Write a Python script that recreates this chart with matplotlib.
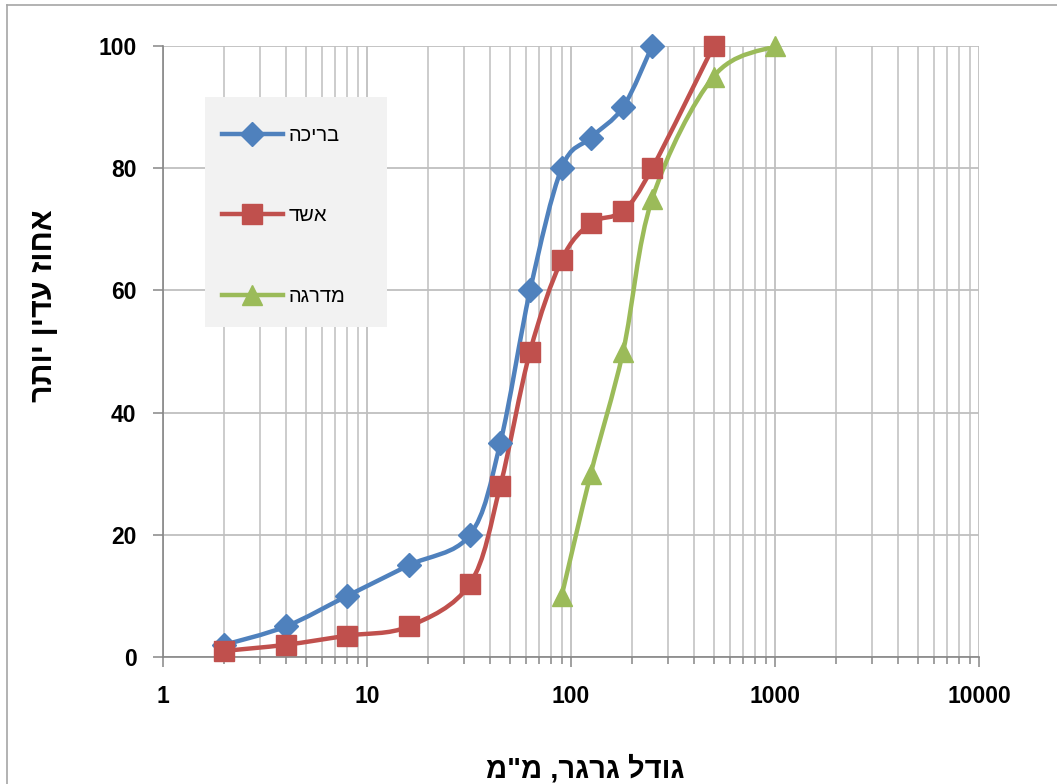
import numpy as np
import matplotlib
matplotlib.use("Agg")
import matplotlib.pyplot as plt
from matplotlib.path import Path
from matplotlib.patches import PathPatch, Rectangle
from matplotlib.lines import Line2D
from matplotlib.ticker import LogLocator, FixedLocator, NullFormatter

plt.rcParams['font.family'] = ['Liberation Sans', 'DejaVu Sans']

# grain size (mm) and percent finer
pool_x = [2, 4, 8, 16, 32, 45, 63, 90, 125, 180, 250]
pool_y = [2, 5, 10, 15, 20, 35, 60, 80, 85, 90, 100]

fall_x = [2, 4, 8, 16, 32, 45, 63, 90, 125, 180, 250, 500]
fall_y = [1, 2, 3.5, 5, 12, 28, 50, 65, 71, 73, 80, 100]

step_x = [90, 125, 180, 250, 500, 1000]
step_y = [10, 30, 50, 75, 95, 100]

names = ['בריכה', 'אשד', 'מדרגה']
colors = ['#4F81BD', '#C0504D', '#9BBB59']
markers = ['D', 's', '^']
msizes = [12, 14, 15]

y_ticks = [0, 20, 40, 60, 80, 100]
x_ticks = [1, 10, 100, 1000, 10000]

y_title = 'אחוז עדין יותר'
x_title = 'גודל גרגר, מ"מ'


def rtl(s):
    # matplotlib lays text out left to right, so reverse Hebrew strings
    return s[::-1]


def smooth_path(xs, ys):
    """Excel-like smoothed line: cubic bezier through the points in log-x space."""
    lx = np.log10(np.asarray(xs, float))
    ly = np.asarray(ys, float)
    pts = np.column_stack([lx, ly])
    n = len(pts)
    verts = [pts[0]]
    codes = [Path.MOVETO]
    for i in range(n - 1):
        p0 = pts[max(i - 1, 0)]
        p1 = pts[i]
        p2 = pts[i + 1]
        p3 = pts[min(i + 2, n - 1)]
        c1 = p1 + (p2 - p0) / 6.0
        c2 = p2 - (p3 - p1) / 6.0
        verts += [c1, c2, p2]
        codes += [Path.CURVE4] * 3
    verts = np.array(verts)
    verts[:, 0] = 10 ** verts[:, 0]
    return Path(verts, codes)


fig = plt.figure(figsize=(10.57, 7.84), dpi=100)
ax = fig.add_axes([163 / 1057, 1 - 657 / 784, (979 - 163) / 1057, (657 - 46) / 784])

ax.set_xscale('log')
ax.set_xlim(1, 10000)
ax.set_ylim(0, 100)

ax.xaxis.set_major_locator(FixedLocator(x_ticks))
ax.xaxis.set_minor_locator(LogLocator(base=10, subs=np.arange(2, 10)))
ax.xaxis.set_minor_formatter(NullFormatter())
ax.set_xticklabels([str(t) for t in x_ticks])
ax.set_yticks(y_ticks)

grid_c = '#bfbfbf'
ax.grid(True, which='major', axis='both', color=grid_c, linewidth=1.3, zorder=0)
ax.grid(True, which='minor', axis='x', color=grid_c, linewidth=1.1, zorder=0)
ax.set_axisbelow(True)

for side in ['top', 'right']:
    ax.spines[side].set_visible(False)
for side in ['left', 'bottom']:
    ax.spines[side].set_color('#868686')
    ax.spines[side].set_linewidth(1.2)

ax.tick_params(axis='both', which='both', color='#868686', width=1.1)
ax.tick_params(axis='y', length=7, pad=12)
ax.tick_params(axis='x', which='major', length=7, pad=13)
ax.tick_params(axis='x', which='minor', length=5)
for lab in ax.get_xticklabels() + ax.get_yticklabels():
    lab.set_fontsize(16.5)
    lab.set_fontweight('bold')

series = [(pool_x, pool_y), (fall_x, fall_y), (step_x, step_y)]
handles = []
for (xs, ys), name, c, m, ms in zip(series, names, colors, markers, msizes):
    patch = PathPatch(smooth_path(xs, ys), facecolor='none', edgecolor=c,
                      linewidth=3.2, capstyle='round', joinstyle='round', zorder=3)
    ax.add_patch(patch)
    ax.plot(xs, ys, linestyle='none', marker=m, markersize=ms, color=c,
            markeredgecolor=c, zorder=4, clip_on=False)
    handles.append(Line2D([], [], color=c, linewidth=3.2, marker=m,
                          markersize=ms, markeredgecolor=c))

# legend box
x0 = (205 - 163) / 816
y0 = (657 - 327) / 611
w = (387 - 205) / 816
h = (327 - 97) / 611
ax.add_patch(Rectangle((x0, y0), w, h, transform=ax.transAxes,
                       facecolor='#f2f2f2', edgecolor='none', zorder=5))
leg = ax.legend(handles, [rtl(n) for n in names], loc='upper left',
                bbox_to_anchor=(x0 + 0.021, y0 + h - 0.047), frameon=False,
                fontsize=14.5, handlelength=3.0, handletextpad=0.3,
                labelspacing=3.05, numpoints=1, borderaxespad=0, borderpad=0)
leg.set_zorder(6)

fig.text(44 / 1057, 1 - 306 / 784, rtl(y_title), rotation=90,
         ha='center', va='center', fontsize=22, fontweight='bold')
fig.text(585 / 1057, 1 - 769 / 784, rtl(x_title), ha='center', va='center',
         fontsize=21, fontweight='bold')

# chart area border
fig.add_artist(Line2D([7 / 1057, 7 / 1057], [0, 1 - 5 / 784], color='#a6a6a6',
                      linewidth=1.2, transform=fig.transFigure))
fig.add_artist(Line2D([7 / 1057, 1], [1 - 5 / 784, 1 - 5 / 784], color='#a6a6a6',
                      linewidth=1.2, transform=fig.transFigure))

fig.savefig('out.png', dpi=100, facecolor='white')
